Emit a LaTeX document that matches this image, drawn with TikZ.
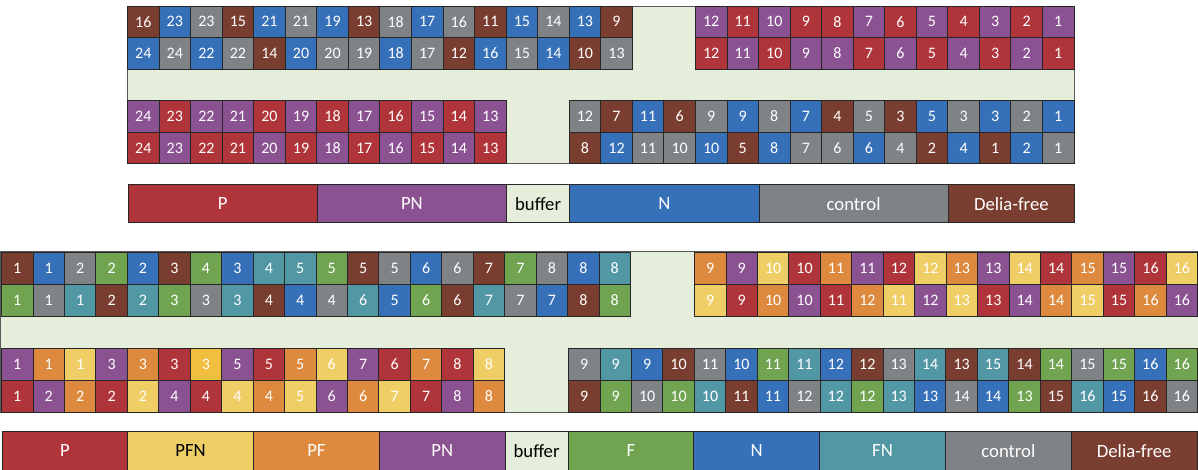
\documentclass[tikz,border=0pt]{standalone}
\usepackage{fontspec}
\setmainfont{Carlito}
\definecolor{cP}{RGB}{176,53,58}
\definecolor{cPN}{RGB}{138,82,145}
\definecolor{cN}{RGB}{54,112,184}
\definecolor{cC}{RGB}{127,131,134}
\definecolor{cD}{RGB}{122,62,48}
\definecolor{cB}{RGB}{228,238,218}
\definecolor{cY}{RGB}{240,206,102}
\definecolor{cYtwo}{RGB}{242,190,62}
\definecolor{cO}{RGB}{222,138,62}
\definecolor{cF}{RGB}{112,164,80}
\definecolor{cT}{RGB}{82,152,164}
\tikzset{
  cell/.style={draw=black!85, line width=0.9pt, inner sep=0pt, text=white,
    font=\fontsize{16}{17}\selectfont, anchor=center},
  frame/.style={draw=black!65, fill=cB, line width=0.8pt},
  legbox/.style={draw=black!85, line width=0.9pt, inner sep=0pt, anchor=north west,
    font=\fontsize{18.7}{19}\selectfont},
}
% #1 prefix, #2 x0, #3 y top, #4 width, #5 height, #6 list num/colour
\newcommand\cellrow[6]{%
  \foreach [count=\i] \n/\col in {#6} {
    \node[cell, minimum width=#4pt, minimum height=#5pt, fill=\col]
      (#1\i) at ({#2+(\i-0.5)*#4},{#3+0.5*#5}) {\n};
  }}
% #1 prefix, #2 x0, #3 y top, #4 cell width, #5 height, #6 list start/span/colour/label/textcolour
\newcommand\legrow[6]{%
  \foreach [count=\i] \k/\w/\col/\lab/\tc in {#6} {
    \node[legbox, fill=\col, text=\tc, minimum width={\w*#4pt}, minimum height=#5pt]
      (#1\i) at ({#2+\k*#4},#3) {\lab};
  }}
\begin{document}
\begin{tikzpicture}[x=1pt,y=-1pt]
\useasboundingbox (0,0) rectangle (1198,470);
% ---------------- top diagram ----------------
\draw[frame] (127.5,6) rectangle (1074,163.75);
\cellrow{ta}{127.5}{6}{31.55}{31.55}{16/cD,23/cN,23/cC,15/cD,21/cN,21/cC,19/cN,13/cD,18/cC,17/cN,16/cC,11/cD,15/cN,14/cC,13/cN,9/cD}
\cellrow{tb}{127.5}{37.55}{31.55}{31.55}{24/cN,24/cC,22/cN,22/cC,14/cD,20/cN,20/cC,19/cC,18/cN,17/cC,12/cD,16/cN,15/cC,14/cN,10/cD,13/cC}
\cellrow{tc}{695.4}{6}{31.55}{31.55}{12/cPN,11/cP,10/cPN,9/cP,8/cP,7/cPN,6/cP,5/cPN,4/cP,3/cPN,2/cP,1/cPN}
\cellrow{td}{695.4}{37.55}{31.55}{31.55}{12/cP,11/cPN,10/cP,9/cPN,8/cPN,7/cP,6/cPN,5/cP,4/cPN,3/cP,2/cPN,1/cP}
\cellrow{te}{127.5}{100.65}{31.55}{31.55}{24/cPN,23/cP,22/cPN,21/cPN,20/cP,19/cPN,18/cP,17/cPN,16/cP,15/cPN,14/cP,13/cPN}
\cellrow{tf}{127.5}{132.2}{31.55}{31.55}{24/cP,23/cPN,22/cP,21/cP,20/cPN,19/cP,18/cPN,17/cP,16/cPN,15/cP,14/cPN,13/cP}
\cellrow{tg}{569.2}{100.65}{31.55}{31.55}{12/cC,7/cD,11/cN,6/cD,9/cC,9/cN,8/cC,7/cN,4/cD,5/cC,3/cD,5/cN,3/cC,3/cN,2/cC,1/cN}
\cellrow{th}{569.2}{132.2}{31.55}{31.55}{8/cD,12/cN,11/cC,10/cC,10/cN,5/cD,8/cN,7/cC,6/cC,6/cN,4/cC,2/cD,4/cN,1/cD,2/cN,1/cC}
\legrow{tl}{127.5}{184}{31.55}{38.5}{0/6/cP/P/white,6/6/cPN/PN/white,12/2/cB/buffer/black,14/6/cN/N/white,20/6/cC/control/white,26/4/cD/Delia-free/white}
% ---------------- bottom diagram ----------------
\draw[frame] (0.5,251.5) rectangle (1198.5,412);
\cellrow{ba}{1.5}{252}{31.45}{32}{1/cD,1/cN,2/cC,2/cF,2/cN,3/cD,4/cF,3/cN,4/cT,5/cT,5/cF,5/cD,5/cC,6/cN,6/cC,7/cD,7/cF,8/cC,8/cN,8/cT}
\cellrow{bb}{1.5}{284}{31.45}{32}{1/cF,1/cC,1/cT,2/cD,2/cT,3/cF,3/cC,3/cT,4/cD,4/cN,4/cC,6/cT,5/cN,6/cF,6/cD,7/cT,7/cC,7/cN,8/cD,8/cF}
\cellrow{bc}{694.5}{252}{31.45}{32}{9/cO,9/cPN,10/cY,10/cP,11/cO,11/cPN,12/cP,12/cY,13/cO,13/cPN,14/cY,14/cP,15/cO,15/cPN,16/cP,16/cY}
\cellrow{bd}{694.5}{284}{31.45}{32}{9/cY,9/cP,10/cO,10/cPN,11/cP,12/cO,11/cY,12/cPN,13/cY,13/cP,14/cPN,14/cO,15/cY,15/cP,16/cO,16/cPN}
\cellrow{be}{1.5}{348}{31.45}{32}{1/cPN,1/cO,1/cY,3/cPN,3/cO,3/cP,3/cYtwo,5/cPN,5/cP,5/cO,6/cY,7/cPN,6/cP,7/cO,8/cP,8/cY}
\cellrow{bf}{1.5}{380}{31.45}{32}{1/cP,2/cPN,2/cO,2/cP,2/cY,4/cPN,4/cP,4/cY,4/cO,5/cY,6/cPN,6/cO,7/cY,7/cP,8/cPN,8/cO}
\cellrow{bg}{568.5}{348}{31.45}{32}{9/cC,9/cT,9/cN,10/cD,11/cC,10/cN,11/cF,11/cT,12/cN,12/cD,13/cC,14/cT,13/cD,15/cT,14/cD,14/cF,15/cC,15/cF,16/cN,16/cF}
\cellrow{bh}{568.5}{380}{31.45}{32}{9/cD,9/cF,10/cC,10/cF,10/cT,11/cD,11/cN,12/cC,12/cT,12/cF,13/cT,13/cN,14/cC,14/cN,13/cF,15/cD,16/cT,15/cN,16/cD,16/cC}
\legrow{bl}{1.5}{431}{31.45}{38.5}{0/4/cP/P/white,4/4/cY/PFN/black,8/4/cO/PF/white,12/4/cPN/PN/white,16/2/cB/buffer/black,18/4/cF/F/white,22/4/cN/N/white,26/4/cT/FN/white,30/4/cC/control/white,34/4/cD/Delia-free/white}
\end{tikzpicture}
\end{document}
